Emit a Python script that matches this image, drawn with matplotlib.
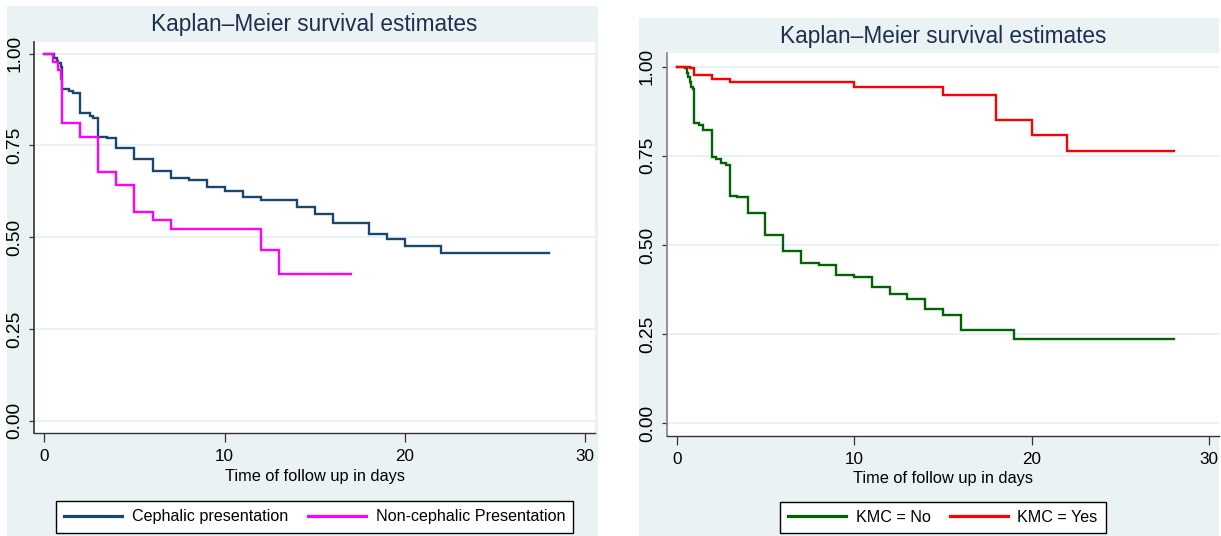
import matplotlib
matplotlib.use("Agg")
import matplotlib.pyplot as plt
from matplotlib.patches import Rectangle
from matplotlib.lines import Line2D

# ---------------- data ----------------
title_text = "Kaplan–Meier survival estimates"
xlabel_text = "Time of follow up in days"
x_ticks = [0, 10, 20, 30]
y_ticks = [0.00, 0.25, 0.50, 0.75, 1.00]
y_ticklabels = ["0.00", "0.25", "0.50", "0.75", "1.00"]

# Left panel: presentation
ceph_label = "Cephalic presentation"
ceph_t = [0, 0.54, 0.69, 0.78, 0.91, 1.0, 1.39, 1.57, 2.0, 2.53, 2.72, 3.0, 3.46,
          4, 5, 6, 7, 8, 9, 10, 11, 12, 14, 15, 16, 18, 19, 20, 22, 28]
ceph_s = [1.0, 0.987, 0.980, 0.974, 0.965, 0.903, 0.899, 0.892, 0.839, 0.830, 0.826,
          0.774, 0.769, 0.743, 0.712, 0.681, 0.661, 0.656, 0.638, 0.627, 0.609,
          0.601, 0.583, 0.563, 0.538, 0.509, 0.494, 0.476, 0.457, 0.457]

nonceph_label = "Non-cephalic Presentation"
nonceph_t = [0, 0.5, 0.75, 0.9, 1, 2, 3, 4, 5, 6, 7, 12, 13, 17]
nonceph_s = [1.0, 0.978, 0.956, 0.930, 0.812, 0.773, 0.677, 0.643, 0.569, 0.547,
             0.523, 0.465, 0.399, 0.399]

# Right panel: KMC
kmc_no_label = "KMC = No"
kmc_no_t = [0, 0.47, 0.56, 0.66, 0.75, 0.81, 0.90, 1.0, 1.27, 1.5, 2.0, 2.21, 2.48,
            2.75, 3.0, 3.42, 4, 5, 6, 7, 8, 9, 10, 11, 12, 13, 14, 15, 16, 19, 28]
kmc_no_s = [1.0, 0.995, 0.981, 0.972, 0.958, 0.944, 0.937, 0.841, 0.836, 0.822,
            0.746, 0.742, 0.731, 0.725, 0.638, 0.635, 0.589, 0.529, 0.484, 0.450,
            0.443, 0.417, 0.409, 0.383, 0.362, 0.349, 0.321, 0.304, 0.262, 0.236,
            0.236]

kmc_yes_label = "KMC = Yes"
kmc_yes_t = [0, 0.75, 1, 2, 3, 10, 15, 18, 20, 22, 28]
kmc_yes_s = [1.0, 0.997, 0.977, 0.966, 0.956, 0.944, 0.921, 0.851, 0.808, 0.764, 0.764]

# ---------------- style ----------------
W, H = 1221, 536
REGION = "#eaf2f3"
GRID = "#eaf2f3"
TITLE_COL = "#1e2f50"
NAVY = "#1a476f"
MAGENTA = "#ff00ff"
GREEN = "#006400"
RED = "#ff0000"

plt.rcParams["font.family"] = ["Liberation Sans", "DejaVu Sans"]

TITLE_FS = 16.3
LABEL_FS = 11.8
XTICK_FS = 12.3
YTICK_FS = 13.8
LEG_FS = 11.6

fig = plt.figure(figsize=(W / 100, H / 100), dpi=100, facecolor="white")


def fx(px):
    return px / W


def fy(py):
    return 1 - py / H


def panel(bg_box, ax_box, x_zero, x_thirty, y_one, y_zero, title_y, xlabel_y,
          series, legend_box, left_spine_col):
    # graph region background
    x0, y0, x1, y1 = bg_box
    fig.add_artist(Rectangle((fx(x0), fy(y1)), fx(x1) - fx(x0), fy(y0) - fy(y1),
                             transform=fig.transFigure, facecolor=REGION,
                             edgecolor="none", zorder=0))
    ax_l, ax_t, ax_r, ax_b = ax_box
    ax = fig.add_axes([fx(ax_l), fy(ax_b), (ax_r - ax_l) / W, (ax_b - ax_t) / H])
    ax.set_facecolor("white")
    xs = (x_thirty - x_zero) / 30.0
    ys = (y_zero - y_one)
    ax.set_xlim((ax_l - x_zero) / xs, (ax_r - x_zero) / xs)
    ax.set_ylim((y_zero - ax_b) / ys, (y_zero - ax_t) / ys)
    for sp in ("top", "right"):
        ax.spines[sp].set_visible(False)
    ax.spines["left"].set_color(left_spine_col)
    ax.spines["left"].set_linewidth(1.2)
    ax.spines["bottom"].set_color("#333333")
    ax.spines["bottom"].set_linewidth(1.0)
    ax.set_xticks(x_ticks)
    ax.set_xticklabels([str(v) for v in x_ticks])
    ax.set_yticks(y_ticks)
    ax.set_yticklabels(y_ticklabels, rotation=90, va="center")
    ax.tick_params(axis="x", direction="out", length=6.5, width=0.9, color="#333333",
                   pad=5, labelsize=XTICK_FS, labelcolor="black")
    ax.tick_params(axis="y", direction="out", length=3.8, width=0.9, color="#333333",
                   pad=4.0, labelsize=YTICK_FS, labelcolor="black")
    ax.grid(axis="y", color=GRID, linewidth=1.4)
    ax.set_axisbelow(True)
    handles = []
    for t, s, c, lab in series:
        ax.step(t, s, where="post", color=c, linewidth=1.7, label=lab,
                solid_joinstyle="miter")
        handles.append(Line2D([], [], color=c, linewidth=2.3))
    cx = (ax_l + ax_r) / 2
    fig.text(fx(cx), fy(title_y), title_text, ha="center", va="center",
             fontsize=TITLE_FS, color=TITLE_COL)
    fig.text(fx(cx), fy(xlabel_y), xlabel_text, ha="center", va="center",
             fontsize=LABEL_FS, color="black")
    lx0, ly0, lx1, ly1 = legend_box
    leg = fig.legend(handles, [s[3] for s in series], loc="center",
                     bbox_to_anchor=(fx(lx0), fy(ly1), (lx1 - lx0) / W, (ly1 - ly0) / H),
                     mode="expand", ncol=2, fontsize=LEG_FS, handlelength=3.6,
                     handletextpad=0.6, borderpad=0.5, borderaxespad=0,
                     fancybox=False, framealpha=1, edgecolor="black")
    leg.get_frame().set_linewidth(1.0)
    return ax


panel(bg_box=(6.7, 5.7, 597.7, 536), ax_box=(34.3, 41.7, 595, 433.3),
      x_zero=44.3, x_thirty=585.3, y_one=53.7, y_zero=420.7, title_y=24,
      xlabel_y=477,
      series=[(ceph_t, ceph_s, NAVY, ceph_label),
              (nonceph_t, nonceph_s, MAGENTA, nonceph_label)],
      legend_box=(56, 499, 573.3, 535), left_spine_col="#333333")

panel(bg_box=(639, 17.7, 1219.3, 536), ax_box=(666.7, 53.3, 1219, 435.7),
      x_zero=676.7, x_thirty=1209.3, y_one=66.7, y_zero=423.3, title_y=36,
      xlabel_y=478,
      series=[(kmc_no_t, kmc_no_s, GREEN, kmc_no_label),
              (kmc_yes_t, kmc_yes_s, RED, kmc_yes_label)],
      legend_box=(780, 500, 1105.7, 535), left_spine_col="#808080")

fig.savefig("out.png", dpi=100, facecolor="white")
